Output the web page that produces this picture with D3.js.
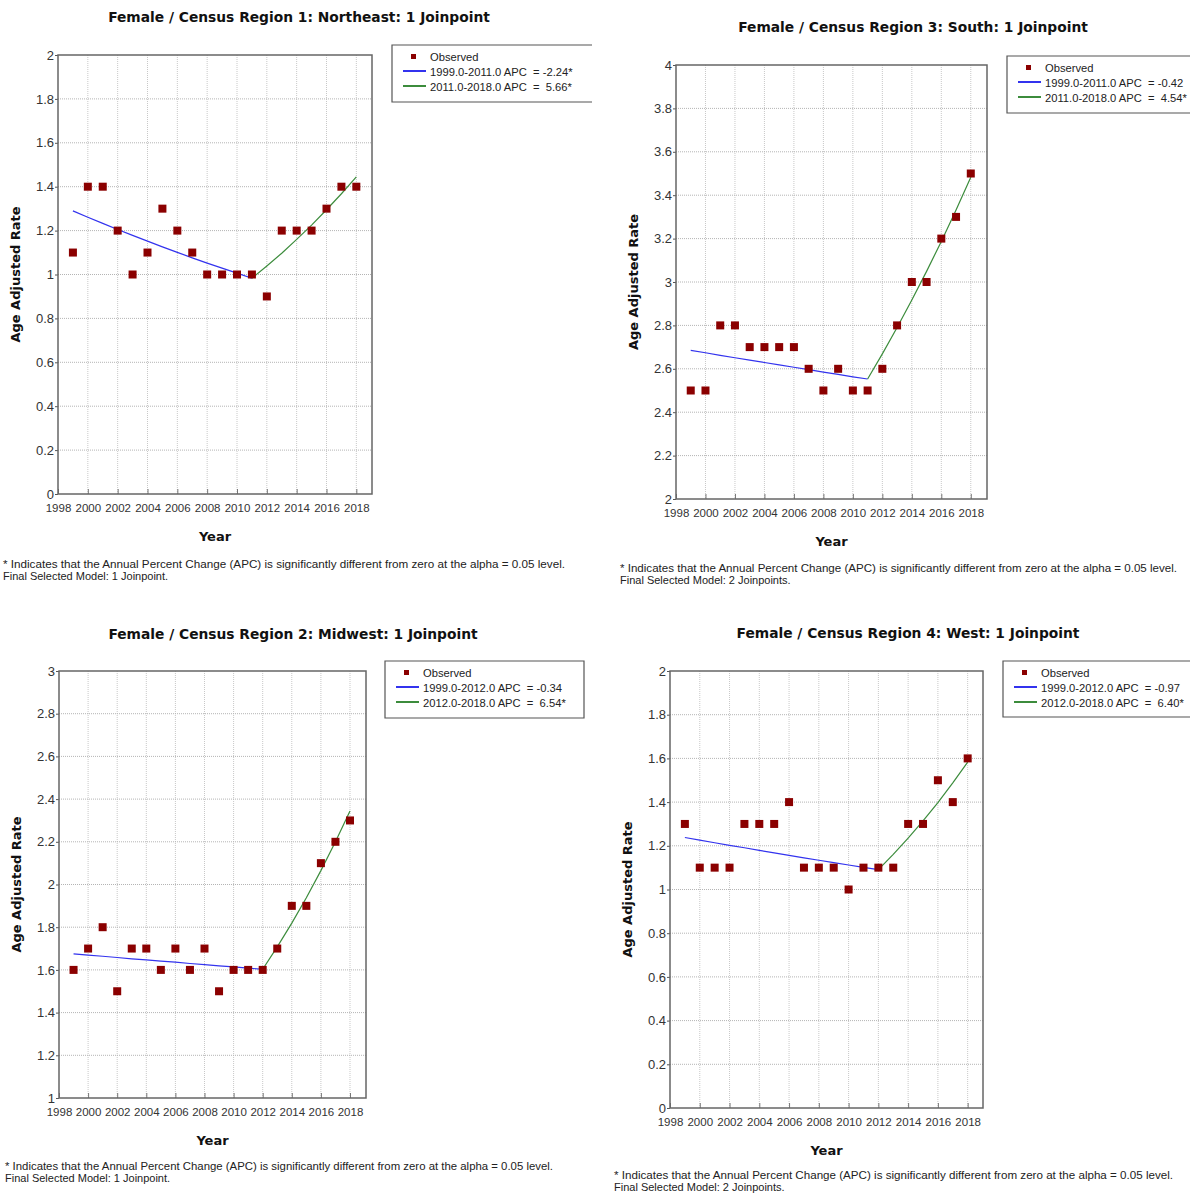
<!DOCTYPE html>
<html>
<head>
<meta charset="utf-8">
<script src="https://cdn.jsdelivr.net/npm/d3@7"></script>
<style>
  body { margin: 0; background: #fff; }
  svg text { white-space: pre; }
  .tick text { font-family: "Liberation Sans", Arial, sans-serif; fill: #333; }
  .title, .axis-title { font-family: "DejaVu Sans", Verdana, sans-serif; font-weight: bold; fill: #111; }
  .legend-text, .note { font-family: "Liberation Sans", Arial, sans-serif; fill: #222; }
</style>
</head>
<body>
<div id="chart"></div>
<script>
// data
const years = [1999, 2000, 2001, 2002, 2003, 2004, 2005, 2006, 2007, 2008,
  2009, 2010, 2011, 2012, 2013, 2014, 2015, 2016, 2017, 2018];
const xTicks = [1998, 2000, 2002, 2004, 2006, 2008, 2010, 2012, 2014, 2016, 2018];

// Region 1: Northeast
const neObserved = [1.1, 1.4, 1.4, 1.2, 1.0, 1.1, 1.3, 1.2, 1.1, 1.0,
  1.0, 1.0, 1.0, 0.9, 1.2, 1.2, 1.2, 1.3, 1.4, 1.4];
const neFit = [1.290, 1.261, 1.233, 1.205, 1.178, 1.152, 1.126, 1.101, 1.076, 1.052,
  1.029, 1.006, 0.983, 1.039, 1.097, 1.160, 1.225, 1.295, 1.368, 1.445];
const neJoin = 2011;
const neYTicks = [0, 0.2, 0.4, 0.6, 0.8, 1, 1.2, 1.4, 1.6, 1.8, 2];
const neLegend = ["Observed", "1999.0-2011.0 APC  = -2.24*", "2011.0-2018.0 APC  =  5.66*"];

// Region 3: South
const soObserved = [2.5, 2.5, 2.8, 2.8, 2.7, 2.7, 2.7, 2.7, 2.6, 2.5,
  2.6, 2.5, 2.5, 2.6, 2.8, 3.0, 3.0, 3.2, 3.3, 3.5];
const soFit = [2.685, 2.674, 2.662, 2.651, 2.640, 2.629, 2.618, 2.607, 2.596, 2.585,
  2.574, 2.563, 2.553, 2.669, 2.790, 2.917, 3.049, 3.187, 3.332, 3.483];
const soJoin = 2011;
const soYTicks = [2, 2.2, 2.4, 2.6, 2.8, 3, 3.2, 3.4, 3.6, 3.8, 4];
const soLegend = ["Observed", "1999.0-2011.0 APC  = -0.42", "2011.0-2018.0 APC  =  4.54*"];

// Region 2: Midwest
const mwObserved = [1.6, 1.7, 1.8, 1.5, 1.7, 1.7, 1.6, 1.7, 1.6, 1.7,
  1.5, 1.6, 1.6, 1.6, 1.7, 1.9, 1.9, 2.1, 2.2, 2.3];
const mwFit = [1.675, 1.669, 1.664, 1.658, 1.652, 1.647, 1.641, 1.636, 1.630, 1.625,
  1.619, 1.614, 1.608, 1.603, 1.708, 1.819, 1.938, 2.065, 2.200, 2.344];
const mwJoin = 2012;
const mwYTicks = [1, 1.2, 1.4, 1.6, 1.8, 2, 2.2, 2.4, 2.6, 2.8, 3];
const mwLegend = ["Observed", "1999.0-2012.0 APC  = -0.34", "2012.0-2018.0 APC  =  6.54*"];

// Region 4: West
const weObserved = [1.3, 1.1, 1.1, 1.1, 1.3, 1.3, 1.3, 1.4, 1.1, 1.1,
  1.1, 1.0, 1.1, 1.1, 1.1, 1.3, 1.3, 1.5, 1.4, 1.6];
const weFit = [1.238, 1.226, 1.214, 1.202, 1.191, 1.179, 1.168, 1.156, 1.145, 1.134,
  1.123, 1.112, 1.101, 1.091, 1.161, 1.235, 1.314, 1.398, 1.488, 1.583];
const weJoin = 2012;
const weYTicks = [0, 0.2, 0.4, 0.6, 0.8, 1, 1.2, 1.4, 1.6, 1.8, 2];
const weLegend = ["Observed", "1999.0-2012.0 APC  = -0.97", "2012.0-2018.0 APC  =  6.40*"];

const noteSig = "* Indicates that the Annual Percent Change (APC) is significantly different from zero at the alpha = 0.05 level.";

const panels = [
  { title: "Female / Census Region 1: Northeast: 1 Joinpoint", observed: neObserved, fit: neFit,
    join: neJoin, yTicks: neYTicks, legend: neLegend, model: "Final Selected Model: 1 Joinpoint." },
  { title: "Female / Census Region 3: South: 1 Joinpoint", observed: soObserved, fit: soFit,
    join: soJoin, yTicks: soYTicks, legend: soLegend, model: "Final Selected Model: 2 Joinpoints." },
  { title: "Female / Census Region 2: Midwest: 1 Joinpoint", observed: mwObserved, fit: mwFit,
    join: mwJoin, yTicks: mwYTicks, legend: mwLegend, model: "Final Selected Model: 1 Joinpoint." },
  { title: "Female / Census Region 4: West: 1 Joinpoint", observed: weObserved, fit: weFit,
    join: weJoin, yTicks: weYTicks, legend: weLegend, model: "Final Selected Model: 2 Joinpoints." },
];

// where each panel sits on the page (the source is four screenshots stitched together)
const layouts = [
  { plot: [58, 55, 372, 494], xMax: 2019.05, title: [299, 22], box: [392, 45, 200, 57], boxRight: false, note: [3, 568], noteW: 562 },
  { plot: [676, 65, 987, 499], xMax: 2019.1, title: [913, 32], box: [1007, 56, 200, 57], boxRight: false, note: [620, 572], noteW: 557 },
  { plot: [59, 671, 366, 1098], xMax: 2019.1, title: [293, 639], box: [385, 661, 199, 57], boxRight: true, note: [5, 1170], noteW: 548 },
  { plot: [670, 671, 983, 1108], xMax: 2019.03, title: [908, 638], box: [1003, 661, 200, 56], boxRight: false, note: [614, 1179], noteW: 559 },
];

const colors = { point: "#8b0000", seg1: "#3333ee", seg2: "#3c8c3c", frame: "#666", grid: "#b4b4b4" };

const svg = d3.select("#chart").append("svg")
  .attr("width", 1190)
  .attr("height", 1194);

panels.forEach((p, i) => drawPanel(p, layouts[i]));

function drawPanel(p, lay) {
  const [x0, y0, x1, y1] = lay.plot;
  const width = x1 - x0, height = y1 - y0;

  const xScale = d3.scaleLinear().domain([1998, lay.xMax]).range([0, width]);
  const yScale = d3.scaleLinear().domain(d3.extent(p.yTicks)).range([height, 0]);

  const g = svg.append("g").attr("transform", `translate(${x0},${y0})`);

  // grid
  g.append("g").selectAll("line")
    .data(xTicks.slice(1))
    .join("line")
    .attr("x1", d => xScale(d)).attr("x2", d => xScale(d))
    .attr("y1", 0).attr("y2", height)
    .attr("stroke", "#c8c8c8").attr("stroke-width", 1)
    .attr("stroke-dasharray", "1,1");

  g.append("g").selectAll("line")
    .data(p.yTicks.slice(1, -1))
    .join("line")
    .attr("x1", 0).attr("x2", width)
    .attr("y1", d => yScale(d)).attr("y2", d => yScale(d))
    .attr("stroke", colors.grid).attr("stroke-width", 1)
    .attr("stroke-dasharray", "1,1");

  // axes
  const xAxis = d3.axisBottom(xScale)
    .tickValues(xTicks)
    .tickFormat(d3.format("d"))
    .tickSize(-5)
    .tickSizeOuter(0)
    .tickPadding(10);
  const xAxisG = g.append("g").attr("transform", `translate(0,${height})`).call(xAxis);
  xAxisG.select(".domain").remove();
  xAxisG.selectAll(".tick line").attr("stroke", "#777");
  xAxisG.selectAll(".tick text").attr("font-size", 11.5);

  const yAxis = d3.axisLeft(yScale)
    .tickValues(p.yTicks)
    .tickFormat(d3.format("~g"))
    .tickSize(3)
    .tickSizeOuter(0)
    .tickPadding(1);
  const yAxisG = g.append("g").call(yAxis);
  yAxisG.select(".domain").remove();
  yAxisG.selectAll(".tick line").attr("stroke", "#555");
  yAxisG.selectAll(".tick text").attr("font-size", 13);

  // frame
  g.append("rect")
    .attr("width", width).attr("height", height)
    .attr("fill", "none")
    .attr("stroke", colors.frame)
    .attr("stroke-width", 1.5);

  // fitted segments
  const line = d3.line()
    .x(d => xScale(d.year))
    .y(d => yScale(d.value));
  const fitData = years.map((year, k) => ({ year, value: p.fit[k] }));

  g.append("path")
    .datum(fitData.filter(d => d.year <= p.join))
    .attr("d", line)
    .attr("fill", "none")
    .attr("stroke", colors.seg1)
    .attr("stroke-width", 1.2);
  g.append("path")
    .datum(fitData.filter(d => d.year >= p.join))
    .attr("d", line)
    .attr("fill", "none")
    .attr("stroke", colors.seg2)
    .attr("stroke-width", 1.2);

  // observed points
  const s = 8;
  g.append("g").selectAll("rect")
    .data(years.map((year, k) => ({ year, value: p.observed[k] })))
    .join("rect")
    .attr("x", d => xScale(d.year) - s / 2)
    .attr("y", d => yScale(d.value) - s / 2)
    .attr("width", s).attr("height", s)
    .attr("fill", colors.point);

  // titles
  svg.append("text")
    .attr("class", "title")
    .attr("x", lay.title[0]).attr("y", lay.title[1])
    .attr("text-anchor", "middle")
    .attr("font-size", 13.8)
    .text(p.title);

  svg.append("text")
    .attr("class", "axis-title")
    .attr("text-anchor", "middle")
    .attr("x", x0 + width / 2)
    .attr("y", y1 + 47)
    .attr("font-size", 13)
    .text("Year");

  svg.append("text")
    .attr("class", "axis-title")
    .attr("text-anchor", "middle")
    .attr("transform", `translate(${x0 - 38},${y0 + height / 2}) rotate(-90)`)
    .attr("font-size", 13)
    .text("Age Adjusted Rate");

  // legend
  const [bx, by, bw, bh] = lay.box;
  const leg = svg.append("g").attr("transform", `translate(${bx},${by})`);
  leg.append("path")
    .attr("d", lay.boxRight
      ? `M0,0H${bw}V${bh}H0Z`
      : `M${bw},0H0V${bh}H${bw}`)
    .attr("fill", "#fff")
    .attr("stroke", "#555")
    .attr("stroke-width", 1.2);

  leg.append("rect")
    .attr("x", 19).attr("y", 9)
    .attr("width", 5).attr("height", 5)
    .attr("fill", colors.point);
  [colors.seg1, colors.seg2].forEach((c, k) => {
    leg.append("line")
      .attr("x1", 11).attr("x2", 34)
      .attr("y1", 26 + k * 15).attr("y2", 26 + k * 15)
      .attr("stroke", c)
      .attr("stroke-width", 2);
  });
  leg.selectAll(".legend-text")
    .data(p.legend)
    .join("text")
    .attr("class", "legend-text")
    .attr("x", 38)
    .attr("y", (d, k) => 16 + k * 15)
    .attr("font-size", 11.2)
    .text(d => d);

  // footnote
  svg.append("text")
    .attr("class", "note")
    .attr("x", lay.note[0]).attr("y", lay.note[1])
    .attr("font-size", 11)
    .attr("textLength", lay.noteW)
    .attr("lengthAdjust", "spacingAndGlyphs")
    .text(noteSig);
  svg.append("text")
    .attr("class", "note")
    .attr("x", lay.note[0]).attr("y", lay.note[1] + 12)
    .attr("font-size", 11)
    .text(p.model);
}
</script>
</body>
</html>
